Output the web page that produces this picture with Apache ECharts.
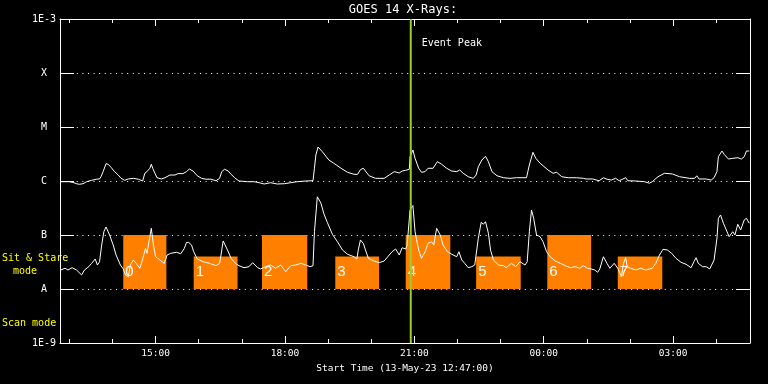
<!DOCTYPE html>
<html><head><meta charset="utf-8">
<script src="https://cdn.jsdelivr.net/npm/echarts@6/dist/echarts.min.js"></script>
<style>html,body{margin:0;padding:0;background:#000;}#c{width:768px;height:384px;}</style>
</head><body><div id="c"></div>
<script>
// time in minutes after 12:00 on 13-May-23
const startMinute = 47, endMinute = 1007;
const majorTicks = [180, 360, 540, 720, 900];
const minorTicks = [60, 120, 180, 240, 300, 360, 420, 480, 540, 600, 660, 720, 780, 840, 900, 960];
const levelLabels = {'-9': '1E-9', '-8': 'A', '-7': 'B', '-6': 'C', '-5': 'M', '-4': 'X', '-3': '1E-3'};
const boxStart = [135, 233, 328, 430, 528, 626, 725, 823];
const boxEnd = [195, 294, 391, 491, 590, 688, 786, 885];
const boxTop = [1e-7, 4e-8, 1e-7, 4e-8, 1e-7, 4e-8, 1e-7, 4e-8];
const boxBottom = 1e-8;
const boxNames = ['0', '1', '2', '3', '4', '5', '6', '7'];
const boxLabelLevel = 2.07e-8;
const eventPeak = 535;

const longChannel = [[48,9.7e-7],[60,9.7e-7],[65,9.4e-7],[70,8.9e-7],[74,8.7e-7],[79,8.9e-7],[84,9.7e-7],[91,1.03e-6],[98,1.08e-6],[102,1.09e-6],[104,1.2e-6],[107,1.49e-6],[111,2.09e-6],[114,2.04e-6],[118,1.79e-6],[123,1.49e-6],[128,1.29e-6],[132,1.12e-6],[137,1.03e-6],[142,1.09e-6],[149,1.12e-6],[156,1.08e-6],[162,1.0e-6],[165,1.39e-6],[168,1.49e-6],[172,1.72e-6],[174,2.04e-6],[176,1.72e-6],[179,1.39e-6],[182,1.15e-6],[188,1.09e-6],[193,1.15e-6],[200,1.29e-6],[207,1.29e-6],[211,1.37e-6],[218,1.37e-6],[223,1.49e-6],[227,1.67e-6],[232,1.53e-6],[238,1.25e-6],[244,1.12e-6],[250,1.08e-6],[257,1.08e-6],[264,1.01e-6],[269,1.12e-6],[272,1.49e-6],[276,1.65e-6],[281,1.53e-6],[285,1.33e-6],[290,1.15e-6],[296,1.0e-6],[308,9.7e-7],[317,9.7e-7],[324,9.3e-7],[331,8.8e-7],[340,9.3e-7],[349,8.8e-7],[359,8.9e-7],[368,9.3e-7],[377,9.7e-7],[389,1.0e-6],[399,1.01e-6],[401,1.72e-6],[403,3.03e-6],[406,4.26e-6],[412,3.49e-6],[421,2.45e-6],[428,2.13e-6],[438,1.72e-6],[447,1.45e-6],[456,1.33e-6],[461,1.33e-6],[465,1.62e-6],[469,1.72e-6],[472,1.53e-6],[477,1.25e-6],[486,1.12e-6],[498,1.12e-6],[505,1.29e-6],[512,1.49e-6],[519,1.41e-6],[523,1.53e-6],[528,1.58e-6],[533,1.65e-6],[534,2.82e-6],[538,3.75e-6],[541,2.63e-6],[546,1.72e-6],[550,1.45e-6],[555,1.49e-6],[559,1.72e-6],[566,1.72e-6],[572,2.28e-6],[578,2.04e-6],[585,1.72e-6],[592,1.53e-6],[599,1.49e-6],[603,1.6e-6],[608,1.39e-6],[615,1.2e-6],[622,1.12e-6],[626,1.29e-6],[629,1.84e-6],[634,2.45e-6],[639,2.87e-6],[643,2.28e-6],[648,1.49e-6],[655,1.25e-6],[664,1.15e-6],[673,1.12e-6],[682,1.15e-6],[696,1.15e-6],[700,1.98e-6],[705,3.4e-6],[709,2.63e-6],[715,2.13e-6],[719,1.92e-6],[726,1.6e-6],[733,1.39e-6],[738,1.45e-6],[745,1.2e-6],[754,1.15e-6],[766,1.15e-6],[775,1.12e-6],[779,1.09e-6],[788,1.09e-6],[797,1.01e-6],[803,1.15e-6],[808,1.08e-6],[814,1.04e-6],[820,1.12e-6],[825,1.01e-6],[834,1.15e-6],[837,1.01e-6],[848,1.0e-6],[860,9.7e-7],[867,9.1e-7],[871,9.7e-7],[879,1.2e-6],[888,1.39e-6],[899,1.35e-6],[909,1.2e-6],[923,1.12e-6],[930,1.12e-6],[933,1.25e-6],[936,1.09e-6],[946,1.09e-6],[953,1.04e-6],[957,1.15e-6],[961,1.49e-6],[963,2.82e-6],[968,3.59e-6],[971,3.12e-6],[977,2.55e-6],[983,2.63e-6],[990,2.7e-6],[995,2.55e-6],[999,2.82e-6],[1002,3.59e-6],[1006,3.59e-6]];

const shortChannel = [[48,2.25e-8],[54,2.42e-8],[58,2.25e-8],[64,2.48e-8],[70,2.25e-8],[77,1.82e-8],[81,2.25e-8],[87,2.59e-8],[91,2.99e-8],[96,3.59e-8],[99,2.78e-8],[102,3.2e-8],[105,6.53e-8],[108,1.15e-7],[111,1.41e-7],[116,1.0e-7],[121,6.53e-8],[125,4.26e-8],[131,2.78e-8],[135,2.35e-8],[138,1.82e-8],[142,1.69e-8],[145,2.78e-8],[149,3.44e-8],[153,2.99e-8],[158,2.42e-8],[161,3.2e-8],[166,5.66e-8],[168,4.58e-8],[172,9.3e-8],[174,1.33e-7],[177,6.53e-8],[180,3.96e-8],[183,3.7e-8],[189,3.2e-8],[192,2.99e-8],[196,4.26e-8],[201,4.58e-8],[209,4.78e-8],[215,4.5e-8],[220,5.66e-8],[223,7.3e-8],[226,7.3e-8],[230,6.53e-8],[233,4.9e-8],[238,3.59e-8],[246,3.2e-8],[255,2.99e-8],[264,2.7e-8],[269,2.99e-8],[271,4.26e-8],[274,7.76e-8],[276,7.96e-8],[280,5.28e-8],[285,3.7e-8],[291,2.99e-8],[296,2.7e-8],[303,2.48e-8],[310,2.59e-8],[315,3.07e-8],[322,2.48e-8],[326,2.35e-8],[333,2.59e-8],[340,2.78e-8],[347,2.42e-8],[354,2.78e-8],[361,2.09e-8],[368,2.7e-8],[375,2.78e-8],[382,2.99e-8],[389,2.78e-8],[395,2.59e-8],[399,2.7e-8],[401,1.15e-7],[405,5.1e-7],[410,3.9e-7],[414,2.5e-7],[419,1.7e-7],[426,1.03e-7],[433,7.5e-8],[440,5.28e-8],[447,4.4e-8],[456,3.96e-8],[460,3.59e-8],[462,5.28e-8],[465,8.08e-8],[469,7.0e-8],[472,5.28e-8],[476,3.7e-8],[484,3.3e-8],[491,3.07e-8],[498,3.3e-8],[503,3.96e-8],[509,4.9e-8],[514,5.5e-8],[519,4.26e-8],[523,5.8e-8],[528,5.5e-8],[530,6.53e-8],[534,2.9e-7],[538,3.5e-7],[541,1.15e-7],[546,5.28e-8],[550,3.7e-8],[555,4.9e-8],[559,7.0e-8],[564,7.5e-8],[567,6.53e-8],[571,1.33e-7],[576,1.0e-7],[580,6.53e-8],[586,4.9e-8],[592,4.4e-8],[599,3.96e-8],[602,4.9e-8],[606,3.44e-8],[610,2.99e-8],[615,2.48e-8],[620,2.59e-8],[624,2.78e-8],[629,8.7e-8],[633,1.72e-7],[636,1.58e-7],[639,1.76e-7],[643,1.08e-7],[646,5.28e-8],[650,3.44e-8],[657,2.78e-8],[664,2.7e-8],[668,2.48e-8],[675,2.99e-8],[681,2.59e-8],[687,3.2e-8],[694,2.78e-8],[697,3.2e-8],[700,1.15e-7],[703,2.9e-7],[706,2.04e-7],[710,1.0e-7],[715,9.3e-8],[719,7.5e-8],[724,4.9e-8],[729,3.96e-8],[736,3.3e-8],[743,2.99e-8],[750,2.7e-8],[757,2.48e-8],[764,2.59e-8],[770,2.42e-8],[775,2.7e-8],[781,2.42e-8],[786,2.35e-8],[791,2.25e-8],[795,2.04e-8],[798,2.35e-8],[803,3.96e-8],[808,2.99e-8],[812,2.42e-8],[818,2.99e-8],[823,2.42e-8],[828,1.69e-8],[831,2.99e-8],[834,3.8e-8],[836,2.59e-8],[841,2.42e-8],[848,2.25e-8],[855,2.42e-8],[862,2.25e-8],[871,2.42e-8],[876,2.99e-8],[881,4.26e-8],[886,5.43e-8],[892,5.28e-8],[898,4.58e-8],[904,3.7e-8],[911,3.12e-8],[918,2.87e-8],[925,2.48e-8],[929,3.2e-8],[932,3.8e-8],[935,2.99e-8],[941,2.59e-8],[946,2.59e-8],[951,2.35e-8],[957,3.44e-8],[961,8.7e-8],[963,2.04e-7],[966,2.35e-7],[970,1.65e-7],[974,1.24e-7],[978,9.3e-8],[983,1.15e-7],[986,1.0e-7],[990,1.58e-7],[994,1.24e-7],[999,1.9e-7],[1002,2.04e-7],[1006,1.65e-7]];

const FONT = 'DejaVu Sans Mono';
const W = '#ffffff';
function hourLabel(v) {
  const h = (Math.floor(v / 60) + 12) % 24;
  return (h < 10 ? '0' : '') + h + ':00';
}
function xAxisDef(pos, ticks, len, showLine, showLabel) {
  return {
    type: 'value', position: pos, min: startMinute, max: endMinute,
    axisLine: {show: showLine, onZero: false, lineStyle: {color: W, width: 1}},
    axisTick: {show: true, inside: true, length: len, customValues: ticks, lineStyle: {color: W, width: 1}},
    axisLabel: showLabel ? {show: true, customValues: majorTicks, formatter: hourLabel, color: W,
      fontFamily: FONT, fontSize: 9.5, margin: 6} : {show: false},
    splitLine: {show: false},
    name: showLabel ? 'Start Time (13-May-23 12:47:00)' : '',
    nameLocation: 'middle', nameGap: 20,
    nameTextStyle: {color: W, fontFamily: FONT, fontSize: 9.5}
  };
}
function yAxisDef(pos, main) {
  return {
    type: 'log', logBase: 10, position: pos, min: 1e-9, max: 1e-3, splitNumber: 6,
    axisLine: {show: true, onZero: false, lineStyle: {color: W, width: 1}},
    axisTick: {show: true, inside: true, length: 14, lineStyle: {color: W, width: 1}},
    axisLabel: main ? {
      show: true, margin: 4, color: W, fontFamily: FONT, fontSize: 10,
      formatter: function (v) {
        const e = Math.round(Math.log10(v));
        const t = levelLabels[String(e)] || '';
        return t.length === 1 ? '{l|' + t + '}' : '{n|' + t + '}';
      },
      rich: {l: {color: W, fontFamily: FONT, fontSize: 10, padding: [0, 9, 0, 0]},
             n: {color: W, fontFamily: FONT, fontSize: 10}}
    } : {show: false},
    splitLine: {show: main, lineStyle: {color: W, width: 1, type: [1, 4.6]}}
  };
}

const chart = echarts.init(document.getElementById('c'), null, {renderer: 'canvas'});
chart.setOption({
  backgroundColor: '#000000',
  animation: false,
  grid: {left: 60, right: 18, top: 19, bottom: 41, containLabel: false},
  xAxis: [
    xAxisDef('bottom', majorTicks, 7, true, true),
    xAxisDef('bottom', minorTicks, 4, false, false),
    xAxisDef('top', majorTicks, 7, true, false),
    xAxisDef('top', minorTicks, 4, false, false)
  ],
  yAxis: [yAxisDef('left', true), yAxisDef('right', false)],
  graphic: [
    {type: 'text', x: 403, y: 10, style: {text: 'GOES 14 X-Rays:', fill: W, font: '12px "DejaVu Sans Mono"', textAlign: 'center', textVerticalAlign: 'middle'}},
    {type: 'text', x: 2, y: 258, style: {text: 'Sit & Stare', fill: '#ffff00', font: '10px "DejaVu Sans Mono"', textAlign: 'left', textVerticalAlign: 'middle'}},
    {type: 'text', x: 13, y: 271, style: {text: 'mode', fill: '#ffff00', font: '10px "DejaVu Sans Mono"', textAlign: 'left', textVerticalAlign: 'middle'}},
    {type: 'text', x: 2, y: 323, style: {text: 'Scan mode', fill: '#ffff00', font: '10px "DejaVu Sans Mono"', textAlign: 'left', textVerticalAlign: 'middle'}}
  ],
  series: [
    {
      type: 'custom', name: 'boxes', z: 1,
      data: boxStart.map((s, i) => [s, boxEnd[i], boxTop[i], boxNames[i]]),
      encode: {x: [0, 1], y: 2},
      renderItem: function (params, api) {
        const p1 = api.coord([api.value(0), api.value(2)]);
        const p2 = api.coord([api.value(1), boxBottom]);
        const pl = api.coord([api.value(0), boxLabelLevel]);
        return {type: 'group', children: [
          {type: 'rect', shape: {x: p1[0], y: p1[1], width: p2[0] - p1[0], height: p2[1] - p1[1]},
           style: {fill: '#ff8000'}},
          {type: 'text', x: pl[0] + 2, y: pl[1], style: {text: boxNames[params.dataIndex], fill: '#ffffff',
           font: '15px "Liberation Sans"', textAlign: 'left', textVerticalAlign: 'middle'}}
        ]};
      }
    },
    {type: 'line', name: 'long', data: longChannel, showSymbol: false, symbol: 'none', z: 3,
     lineStyle: {color: W, width: 1}},
    {type: 'line', name: 'short', data: shortChannel, showSymbol: false, symbol: 'none', z: 3,
     lineStyle: {color: W, width: 1}},
    {
      type: 'custom', name: 'peak', z: 5, data: [[eventPeak]], encode: {x: 0},
      renderItem: function (params, api) {
        const top = api.coord([api.value(0), 1e-3]);
        const bot = api.coord([api.value(0), 1e-9]);
        return {type: 'group', children: [
          {type: 'line', shape: {x1: top[0], y1: top[1], x2: bot[0], y2: bot[1]},
           style: {stroke: '#9acd32', lineWidth: 2}},
          {type: 'text', x: top[0] + 11, y: top[1] + 24, style: {text: 'Event Peak', fill: W,
           font: '10px "DejaVu Sans Mono"', textAlign: 'left', textVerticalAlign: 'middle'}}
        ]};
      }
    }
  ]
});
</script></body></html>
